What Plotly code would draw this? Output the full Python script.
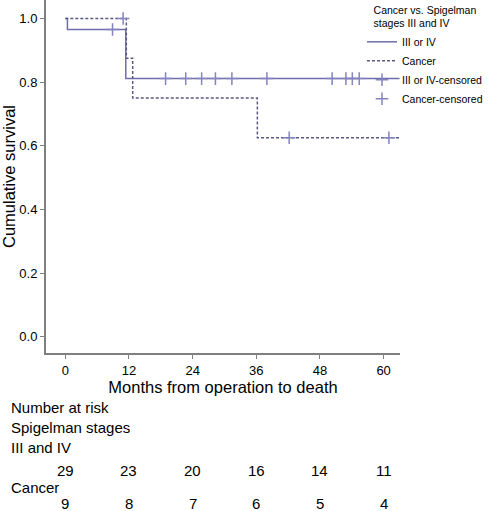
import plotly.graph_objects as go

# Kaplan-Meier step data (months, cumulative survival)
stage_time = [0, 0.4, 11.4, 63]
stage_surv = [1.0, 0.9655, 0.811, 0.811]
stage_cens_time = [8.9, 18.9, 22.7, 25.7, 28.3, 31.4, 38.0, 50.3, 52.9, 54.1, 55.4]
stage_cens_surv = [0.9655, 0.811, 0.811, 0.811, 0.811, 0.811, 0.811, 0.811, 0.811, 0.811, 0.811]

cancer_time = [0, 11.5, 12.7, 36.2, 63]
cancer_surv = [1.0, 0.875, 0.75, 0.625, 0.625]
cancer_cens_time = [10.9, 42.2, 61.0]
cancer_cens_surv = [1.0, 0.625, 0.625]

x_ticks = [0, 12, 24, 36, 48, 60]
risk_stage = [29, 23, 20, 16, 14, 11]
risk_cancer = [9, 8, 7, 6, 5, 4]

line_col = "#6e6eaa"
dash_col = "#5a5a80"
cens_col = "#8484c0"
font = "Liberation Sans, Arial, Helvetica, sans-serif"

fig = go.Figure()
fig.add_trace(go.Scatter(x=stage_time, y=stage_surv, mode="lines", line_shape="hv",
                         line=dict(color=line_col, width=1.5), name="III or IV"))
fig.add_trace(go.Scatter(x=cancer_time, y=cancer_surv, mode="lines", line_shape="hv",
                         line=dict(color=dash_col, width=1.5, dash="3px,2px"), name="Cancer"))
fig.add_trace(go.Scatter(x=stage_cens_time, y=stage_cens_surv, mode="markers",
                         marker=dict(symbol="cross-thin", size=9, line=dict(color=cens_col, width=1.5)),
                         name="III or IV-censored"))
fig.add_trace(go.Scatter(x=cancer_cens_time, y=cancer_cens_surv, mode="markers",
                         marker=dict(symbol="cross-thin", size=9, line=dict(color=cens_col, width=1.5)),
                         name="Cancer-censored"))

lab_x = (9 - 46) / 354
annotations = [
    dict(text="Number at risk", x=lab_x, y=(353 - 407) / 353),
    dict(text="Spigelman stages", x=lab_x, y=(353 - 427) / 353),
    dict(text="III and IV", x=lab_x, y=(353 - 447) / 353),
    dict(text="Cancer", x=lab_x, y=(353 - 487) / 353),
]
annotations = [dict(a, xref="paper", yref="paper", xanchor="left", yanchor="middle",
                    showarrow=False, font=dict(size=15, color="black", family=font))
               for a in annotations]
for xt, n in zip(x_ticks, risk_stage):
    annotations.append(dict(text=str(n), x=xt, xref="x", y=(353 - 470) / 353, yref="paper",
                            showarrow=False, xanchor="center", yanchor="middle",
                            font=dict(size=15, color="black", family=font)))
for xt, n in zip(x_ticks, risk_cancer):
    annotations.append(dict(text=str(n), x=xt, xref="x", y=(353 - 503) / 353, yref="paper",
                            showarrow=False, xanchor="center", yanchor="middle",
                            font=dict(size=15, color="black", family=font)))

fig.update_layout(
    width=502, height=511,
    margin=dict(l=46, r=102, t=0, b=158, autoexpand=False),
    paper_bgcolor="white", plot_bgcolor="white",
    font=dict(family=font, color="black", size=12),
    showlegend=True,
    legend=dict(
        title=dict(text="Cancer vs. Spigelman<br>stages III and IV", side="top center",
                   font=dict(size=10.5)),
        x=(362 - 46) / 354, xanchor="left", y=1.0, yanchor="top",
        font=dict(size=10.5), bgcolor="rgba(0,0,0,0)", tracegroupgap=0,
        itemwidth=30,
    ),
    xaxis=dict(range=[-3.64, 63.09], tickvals=x_ticks, showline=True, linecolor="#808080",
               linewidth=2, ticks="outside", ticklen=4, tickcolor="#808080", showgrid=False,
               zeroline=False, tickfont=dict(size=13),
               title=dict(text="Months from operation to death", font=dict(size=16.5), standoff=2)),
    yaxis=dict(range=[-0.0512, 1.058], tickvals=[0, 0.2, 0.4, 0.6, 0.8, 1.0],
               tickformat=".1f", showline=True, linecolor="#808080", linewidth=2,
               ticks="outside", ticklen=4, tickcolor="#808080", showgrid=False, zeroline=False,
               tickfont=dict(size=13),
               title=dict(text="Cumulative survival", font=dict(size=16.5), standoff=1)),
    annotations=annotations,
)

fig.write_html("out.html", config={"displayModeBar": False},
               post_script="document.body.style.margin='0';document.body.style.overflow='hidden';")
